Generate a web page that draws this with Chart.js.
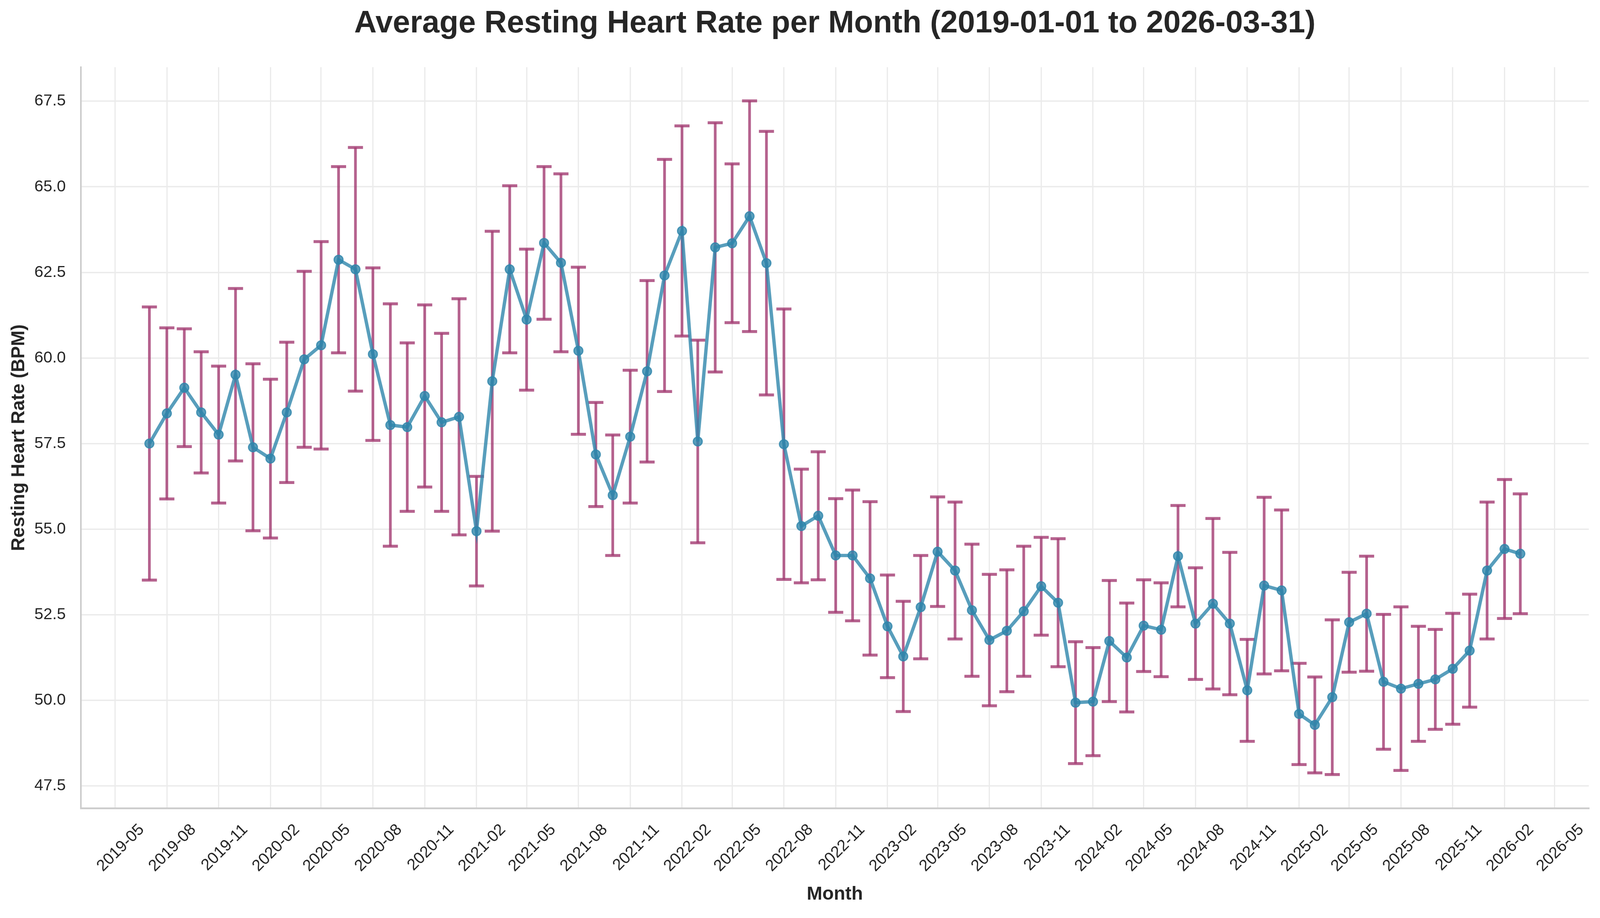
<!DOCTYPE html>
<html>
<head>
<meta charset="utf-8">
<title>Average Resting Heart Rate per Month</title>
<script src="https://cdn.jsdelivr.net/npm/chart.js@4.4.1/dist/chart.umd.min.js"></script>
<style>
  html, body { margin: 0; padding: 0; background: #fff; overflow: hidden; }
  #wrap { position: relative; }
</style>
</head>
<body>
<div id="wrap"><canvas id="hrChart"></canvas></div>
<script>
// 1) Data
const months = [
  '2019-07', '2019-08', '2019-09', '2019-10', '2019-11', '2019-12',
  '2020-01', '2020-02', '2020-03', '2020-04', '2020-05', '2020-06',
  '2020-07', '2020-08', '2020-09', '2020-10', '2020-11', '2020-12',
  '2021-01', '2021-02', '2021-03', '2021-04', '2021-05', '2021-06',
  '2021-07', '2021-08', '2021-09', '2021-10', '2021-11', '2021-12',
  '2022-01', '2022-02', '2022-03', '2022-04', '2022-05', '2022-06',
  '2022-07', '2022-08', '2022-09', '2022-10', '2022-11', '2022-12',
  '2023-01', '2023-02', '2023-03', '2023-04', '2023-05', '2023-06',
  '2023-07', '2023-08', '2023-09', '2023-10', '2023-11', '2023-12',
  '2024-01', '2024-02', '2024-03', '2024-04', '2024-05', '2024-06',
  '2024-07', '2024-08', '2024-09', '2024-10', '2024-11', '2024-12',
  '2025-01', '2025-02', '2025-03', '2025-04', '2025-05', '2025-06',
  '2025-07', '2025-08', '2025-09', '2025-10', '2025-11', '2025-12',
  '2026-01', '2026-02', '2026-03'
];

// monthly mean resting heart rate (BPM)
const meanBpm = [
  57.50, 58.38, 59.13, 58.41, 57.76, 59.51,
  57.39, 57.06, 58.41, 59.96, 60.37, 62.87,
  62.59, 60.11, 58.04, 57.98, 58.89, 58.12,
  58.28, 54.94, 59.32, 62.59, 61.12, 63.36,
  62.78, 60.21, 57.18, 55.99, 57.70, 59.61,
  62.41, 63.71, 57.56, 63.23, 63.35, 64.14,
  62.77, 57.48, 55.09, 55.39, 54.23, 54.23,
  53.56, 52.16, 51.28, 52.72, 54.34, 53.79,
  52.63, 51.76, 52.03, 52.60, 53.33, 52.85,
  49.93, 49.96, 51.73, 51.25, 52.18, 52.06,
  54.21, 52.24, 52.82, 52.24, 50.29, 53.35,
  53.21, 49.60, 49.28, 50.09, 52.28, 52.53,
  50.54, 50.34, 50.48, 50.61, 50.92, 51.45,
  53.79, 54.42, 54.28
];

// standard deviation shown as the error bar half-length
const stdBpm = [
  3.99, 2.50, 1.72, 1.77, 2.00, 2.52,
  2.44, 2.32, 2.05, 2.57, 3.03, 2.72,
  3.56, 2.52, 3.54, 2.46, 2.66, 2.60,
  3.45, 1.60, 4.38, 2.44, 2.06, 2.23,
  2.60, 2.44, 1.52, 1.76, 1.94, 2.65,
  3.39, 3.07, 2.96, 3.64, 2.32, 3.37,
  3.85, 3.95, 1.66, 1.87, 1.66, 1.91,
  2.24, 1.50, 1.61, 1.51, 1.60, 2.00,
  1.93, 1.92, 1.78, 1.90, 1.43, 1.87,
  1.78, 1.58, 1.77, 1.59, 1.34, 1.37,
  1.48, 1.63, 2.49, 2.08, 1.49, 2.58,
  2.35, 1.48, 1.40, 2.26, 1.46, 1.68,
  1.97, 2.39, 1.68, 1.46, 1.62, 1.65,
  2.00, 2.03, 1.75
];

const xTickLabels = [
  '2019-05', '2019-08', '2019-11', '2020-02', '2020-05', '2020-08',
  '2020-11', '2021-02', '2021-05', '2021-08', '2021-11', '2022-02',
  '2022-05', '2022-08', '2022-11', '2023-02', '2023-05', '2023-08',
  '2023-11', '2024-02', '2024-05', '2024-08', '2024-11', '2025-02',
  '2025-05', '2025-08', '2025-11', '2026-02', '2026-05'
];

// 2) Helpers
// sizes were measured on a 4453 x 2350 frame; scale them to the real window
const winW = window.innerWidth || 4453;
const winH = window.innerHeight || 2350;
const SX = winW / 4453;
const SY = winH / 2350;
const SM = Math.sqrt(SX * SY);
const sx = v => v * SX;   // horizontal sizes
const sy = v => v * SY;   // vertical sizes
const sm = v => v * SM;   // fonts and stroke widths

const wrap = document.getElementById('wrap');
wrap.style.width = winW + 'px';
wrap.style.height = winH + 'px';

// month string -> day number on a linear axis
function dayOf(ym) {
  return Date.UTC(+ym.slice(0, 4), +ym.slice(5, 7) - 1, 1) / 86400000;
}

const xValues = months.map(dayOf);
const firstDay = xValues[0];
const lastDay = xValues[xValues.length - 1];
const xPad = (lastDay - firstDay) * 0.05;

const lows = meanBpm.map((m, i) => m - stdBpm[i]);
const highs = meanBpm.map((m, i) => m + stdBpm[i]);
const yLo = Math.min(...lows);
const yHi = Math.max(...highs);
const yPad = (yHi - yLo) * 0.05;

const textColor = '#262626';
const gridColor = '#ebebeb';
const spineColor = '#cccccc';
Chart.defaults.font.family = "'Liberation Sans', Arial, Helvetica, sans-serif";

// title box: text centred 61 px down, plot starts 172 px down
const titleSize = sm(83);
const titlePadTop = sy(61) - titleSize * 0.6;
const titlePadBottom = sy(172) - titlePadTop - titleSize * 1.2;

// 3) Error bars drawn behind the line
const errorBarPlugin = {
  id: 'errorBars',
  beforeDatasetsDraw(chart) {
    const { ctx, scales: { x, y } } = chart;
    const cap = sx(21);
    ctx.save();
    ctx.strokeStyle = 'rgba(162, 59, 114, 0.8)';
    ctx.lineCap = 'butt';
    meanBpm.forEach((m, i) => {
      const cx = x.getPixelForValue(xValues[i]);
      const top = y.getPixelForValue(highs[i]);
      const bot = y.getPixelForValue(lows[i]);
      ctx.lineWidth = sx(7.5);
      ctx.beginPath();
      ctx.moveTo(cx, top);
      ctx.lineTo(cx, bot);
      ctx.stroke();
      ctx.lineWidth = sy(7.5);
      ctx.beginPath();
      ctx.moveTo(cx - cap, top);
      ctx.lineTo(cx + cap, top);
      ctx.stroke();
      ctx.beginPath();
      ctx.moveTo(cx - cap, bot);
      ctx.lineTo(cx + cap, bot);
      ctx.stroke();
    });
    ctx.restore();
  }
};

// 4) Chart
const hrChart = new Chart(document.getElementById('hrChart').getContext('2d'), {
  type: 'line',
  data: {
    datasets: [{
      label: 'Resting Heart Rate',
      data: months.map((m, i) => ({ x: xValues[i], y: meanBpm[i] })),
      borderColor: 'rgba(46, 134, 171, 0.8)',
      borderWidth: sm(9),
      tension: 0,
      fill: false,
      pointRadius: sm(12),
      pointHoverRadius: sm(12),
      pointBorderWidth: sm(3),
      pointBackgroundColor: 'rgba(46, 134, 171, 0.8)',
      pointBorderColor: 'rgba(46, 134, 171, 0.8)'
    }]
  },
  options: {
    responsive: true,
    maintainAspectRatio: false,
    animation: false,
    events: [],
    layout: { padding: { top: 0, right: sx(31), bottom: 0, left: 0 } },
    plugins: {
      legend: { display: false },
      tooltip: { enabled: false },
      title: {
        display: true,
        fullSize: false,
        text: 'Average Resting Heart Rate per Month (2019-01-01 to 2026-03-31)',
        color: textColor,
        font: { size: titleSize, weight: 'bold', lineHeight: 1.2 },
        padding: { top: titlePadTop, bottom: titlePadBottom }
      }
    },
    scales: {
      x: {
        type: 'linear',
        min: firstDay - xPad,
        max: lastDay + xPad,
        afterBuildTicks: (scale) => {
          scale.ticks = xTickLabels.map(l => ({ value: dayOf(l) }));
        },
        afterFit: (scale) => { scale.height = sy(281); },
        grid: { color: gridColor, lineWidth: sx(3.5), drawTicks: false },
        border: { color: spineColor, width: sy(4.5) },
        ticks: {
          autoSkip: false,
          minRotation: 45,
          maxRotation: 45,
          labelOffset: sx(74),
          padding: sy(31),
          color: textColor,
          font: { size: sm(43) },
          callback: (value, index) => xTickLabels[index]
        },
        title: {
          display: true,
          text: 'Month',
          color: textColor,
          font: { size: sm(50), weight: 'bold', lineHeight: 1.2 },
          padding: { top: 0, bottom: sy(60) - sm(30) }
        }
      },
      y: {
        min: yLo - yPad,
        max: yHi + yPad,
        afterFit: (scale) => { scale.width = sx(225); },
        grid: { color: gridColor, lineWidth: sy(3.5), drawTicks: false },
        border: { color: spineColor, width: sx(4.5) },
        ticks: {
          stepSize: 2.5,
          includeBounds: false,
          padding: sx(42),
          color: textColor,
          font: { size: sm(43) },
          callback: (value) => value.toFixed(1)
        },
        title: {
          display: true,
          text: 'Resting Heart Rate (BPM)',
          color: textColor,
          font: { size: sm(50), weight: 'bold', lineHeight: 1.2 },
          padding: { top: sx(53) - sm(30), bottom: 0 }
        }
      }
    }
  },
  plugins: [errorBarPlugin]
});
</script>
</body>
</html>
